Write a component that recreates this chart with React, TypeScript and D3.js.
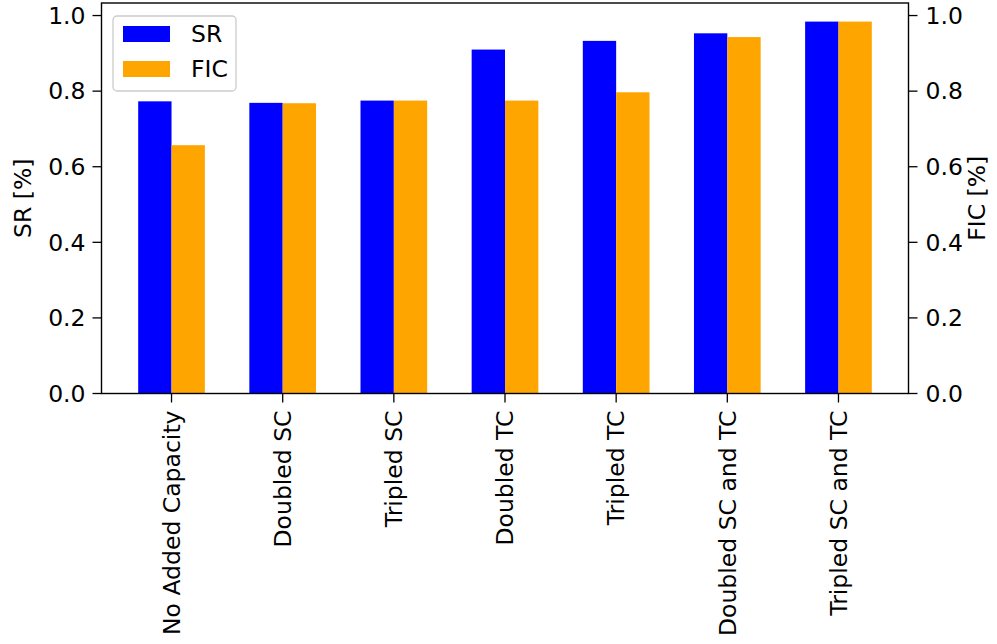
import React from "react";
import * as d3 from "d3";

const categories = [
  "No Added Capacity",
  "Doubled SC",
  "Tripled SC",
  "Doubled TC",
  "Tripled TC",
  "Doubled SC and TC",
  "Tripled SC and TC",
];
const srValues = [0.773, 0.769, 0.775, 0.91, 0.933, 0.953, 0.984];
const ficValues = [0.657, 0.768, 0.775, 0.775, 0.797, 0.943, 0.984];
const yTicks = [0, 0.2, 0.4, 0.6, 0.8, 1.0];
const seriesNames = ["SR", "FIC"];
const seriesColors = ["#0000ff", "#ffa500"];

const W = 997;
const H = 644;
const L = 101.5;
const R = 908.5;
const T = 3;
const B = 393.5;
const FONT = "DejaVu Sans, sans-serif";
const FS = 23.5;

export default function App() {
  const barW = 0.3;
  const n = categories.length;
  const dataMin = -0.3;
  const dataMax = n - 1 + 0.3;
  const span = dataMax - dataMin;
  const x = d3
    .scaleLinear()
    .domain([dataMin - 0.05 * span, dataMax + 0.05 * span])
    .range([L, R]);
  const ymax = d3.max([...srValues, ...ficValues])! * 1.05;
  const y = d3.scaleLinear().domain([0, ymax]).range([B, T]);

  const series = [srValues, ficValues];
  const offsets = [-barW / 2, barW / 2];

  return (
    <svg
      width={W}
      height={H}
      style={{ position: "absolute", left: 0, top: 0, background: "#fff" }}
      fontFamily={FONT}
    >
      <rect x={0} y={0} width={W} height={H} fill="#fff" />
      {series.map((vals, si) =>
        vals.map((v, i) => {
          const cx = i + offsets[si];
          const x0 = x(cx - barW / 2);
          const x1 = x(cx + barW / 2);
          return (
            <rect
              key={`${si}-${i}`}
              x={x0}
              y={y(v)}
              width={x1 - x0}
              height={B - y(v)}
              fill={seriesColors[si]}
            />
          );
        })
      )}
      <rect x={L} y={T} width={R - L} height={B - T} fill="none" stroke="#000" strokeWidth={1.4} />
      {yTicks.map((t) => (
        <g key={`l${t}`}>
          <line x1={L - 9} x2={L} y1={y(t)} y2={y(t)} stroke="#000" strokeWidth={1.3} />
          <text x={L - 16} y={y(t)} dy="0.35em" textAnchor="end" fontSize={FS} fill="#000">
            {t.toFixed(1)}
          </text>
          <line x1={R} x2={R + 9} y1={y(t)} y2={y(t)} stroke="#000" strokeWidth={1.3} />
          <text x={R + 17} y={y(t)} dy="0.35em" textAnchor="start" fontSize={FS} fill="#000">
            {t.toFixed(1)}
          </text>
        </g>
      ))}
      {categories.map((c, i) => (
        <g key={c}>
          <line x1={x(i)} x2={x(i)} y1={B} y2={B + 9} stroke="#000" strokeWidth={1.3} />
          <text
            transform={`translate(${x(i)},${B + 17}) rotate(-90)`}
            dy="0.35em"
            textAnchor="end"
            fontSize={FS}
            fill="#000"
          >
            {c}
          </text>
        </g>
      ))}
      <text
        transform={`translate(23,${(T + B) / 2}) rotate(-90)`}
        textAnchor="middle"
        dy="0.35em"
        fontSize={FS}
        fill="#000"
      >
        SR [%]
      </text>
      <text
        transform={`translate(977,${(T + B) / 2}) rotate(-90)`}
        textAnchor="middle"
        dy="0.35em"
        fontSize={FS}
        fill="#000"
      >
        FIC [%]
      </text>
      <rect
        x={113}
        y={16}
        width={123}
        height={75}
        rx={4}
        fill="#fff"
        fillOpacity={0.8}
        stroke="#cccccc"
        strokeWidth={1.3}
      />
      {seriesNames.map((s, i) => (
        <g key={s}>
          <rect x={123} y={26 + i * 35} width={47} height={16} fill={seriesColors[i]} />
          <text x={191} y={34 + i * 35} dy="0.35em" fontSize={FS} fill="#000">
            {s}
          </text>
        </g>
      ))}
    </svg>
  );
}
